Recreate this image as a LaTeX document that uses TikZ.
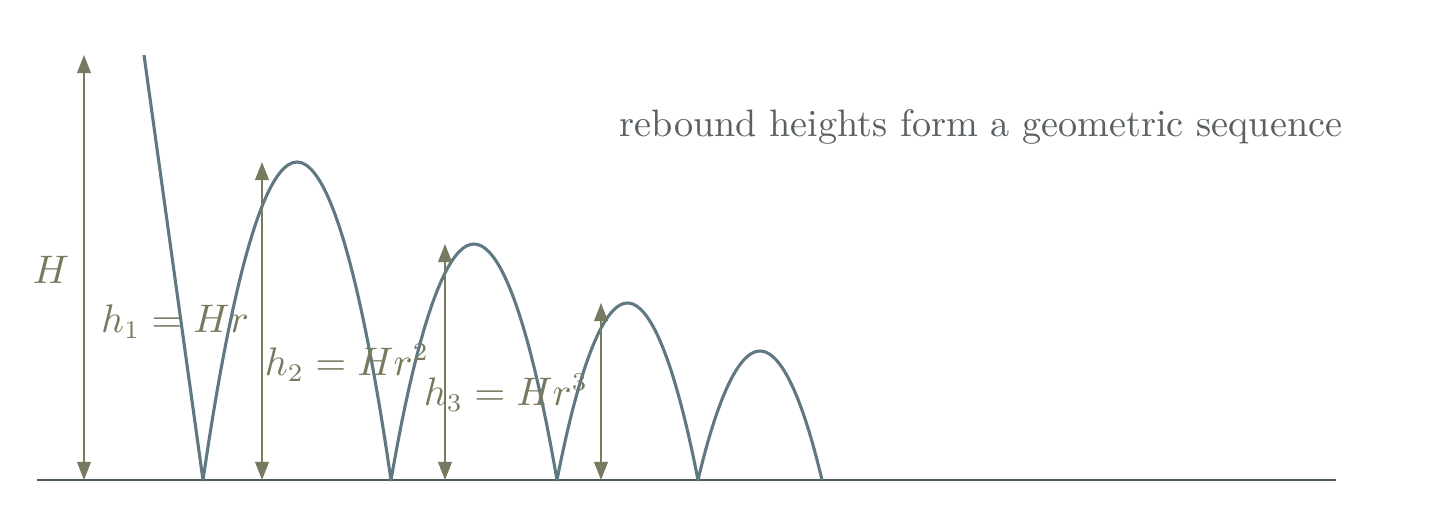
\documentclass[tikz,border=0pt]{standalone}
\usetikzlibrary{arrows.meta}
\definecolor{ballc}{RGB}{95,120,130}
\definecolor{groundc}{RGB}{75,90,90}
\definecolor{dimc}{RGB}{120,122,95}
\definecolor{textc}{RGB}{90,96,100}
\begin{document}
\begin{tikzpicture}[x={0.009655cm},y={-0.009655cm},
  font=\fontsize{10.5}{12.6}\selectfont,
  ball/.style={draw=ballc,line width=0.85pt,line join=round},
  ground/.style={draw=groundc,line width=0.6pt},
  dim/.style={draw=dimc,line width=0.45pt,{Triangle[width=3.8pt,length=5pt]}-{Triangle[width=3.8pt,length=5pt]}},
  dimlabel/.style={text=dimc,inner sep=0pt},
  note/.style={text=textc,inner sep=0pt}]
\useasboundingbox (0,0) rectangle (1450,520);
% ground
\coordinate (g0) at (37,480);
\coordinate (g1) at (1336,480);
\draw[ground] (g0) -- (g1);
% ball path
\coordinate (s) at (144,55);
\coordinate (b1) at (203,480);
\coordinate (p1) at (297,162);
\coordinate (b2) at (391,480);
\coordinate (p2) at (474,244);
\coordinate (b3) at (557,480);
\coordinate (p3) at (627.5,303);
\coordinate (b4) at (698,480);
\coordinate (p4) at (760,351);
\coordinate (b5) at (822,480);
\draw[ball] (s) -- (b1) parabola bend (p1) (b2) parabola bend (p2) (b3)
  parabola bend (p3) (b4) parabola bend (p4) (b5);
% dimension arrows
\coordinate (aH0) at (84,480);  \coordinate (aH1) at (84,55);
\coordinate (a10) at (262,480); \coordinate (a11) at (262,162);
\coordinate (a20) at (445,480); \coordinate (a21) at (445,244);
\coordinate (a30) at (601,480); \coordinate (a31) at (601,303);
\draw[dim] (aH0) -- (aH1);
\draw[dim] (a10) -- (a11);
\draw[dim] (a20) -- (a21);
\draw[dim] (a30) -- (a31);
% labels
\node[dimlabel] (lH) at (51,270) {$H$};
\node[dimlabel] (l1) at (175,322) {$h_1 = Hr$};
\node[dimlabel] (l2) at (347,363) {$h_2 = Hr^2$};
\node[dimlabel] (l3) at (506,393) {$h_3 = Hr^3$};
\node[note] (t) at (981,127) {rebound heights form a geometric sequence};
\end{tikzpicture}
\end{document}
